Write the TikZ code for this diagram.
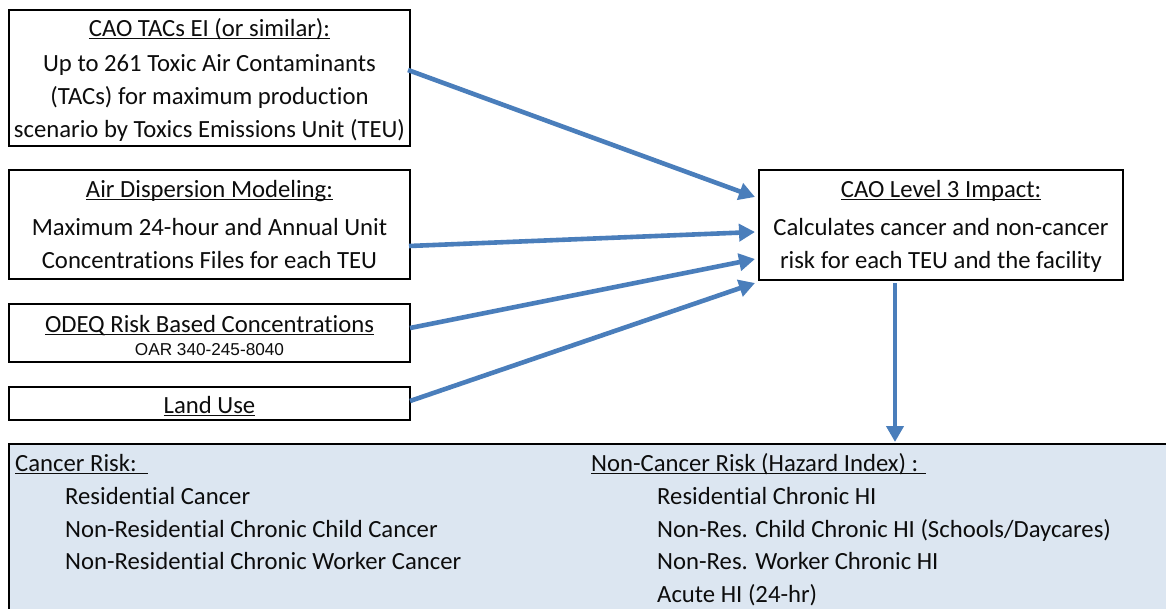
\documentclass[tikz,border=0pt]{standalone}
\usepackage{fontspec}
\setmainfont{Carlito}[Ligatures=NoCommon]
\newfontfamily\arialish{Liberation Sans}
\usetikzlibrary{arrows.meta}
\definecolor{flowblue}{HTML}{4A7EBB}
\definecolor{panelfill}{HTML}{DCE6F1}
\definecolor{inkc}{HTML}{0D0D0D}
% underline that crosses descenders, close to the baseline
\newcommand\ulx[1]{\setbox0\hbox{#1}\rlap{\rule[-3.4pt]{\wd0}{1.2pt}}\box0}
\begin{document}
\begin{tikzpicture}[x=1pt,y=-1pt,
  box/.style={draw=black,line width=2.2pt,inner sep=0pt,outer sep=0pt},
  txt/.style={anchor=base,inner sep=0pt,text=inkc,font=\fontsize{24.7}{28}\selectfont},
  ltxt/.style={txt,anchor=base west},
  small/.style={anchor=base,inner sep=0pt,text=inkc,font=\arialish\fontsize{17.2}{20}\selectfont},
  flow/.style={draw=flowblue,line width=4.6pt,-{Triangle[length=16pt,width=17pt]}}]
\clip (0,0) rectangle (1166,608);
\fill[white] (0,0) rectangle (1166,608);

% input boxes
\node[box,minimum width=401pt,minimum height=136pt] (b1) at (209.5,78) {};
\node[box,minimum width=401pt,minimum height=109pt] (b2) at (209.5,224.5) {};
\node[box,minimum width=401pt,minimum height=58pt] (b3) at (209.5,333) {};
\node[box,minimum width=401pt,minimum height=33pt] (b4) at (209.5,403.5) {};
% impact box
\node[box,minimum width=364pt,minimum height=110pt] (cao) at (941,225) {};
% results panel
\node[box,fill=panelfill,minimum width=1161pt,minimum height=170pt] (res) at (589.5,529) {};

% texts of the input boxes
\node[txt] (t1a) at (209.5,36) {\ulx{CAO TACs EI (or similar):}};
\node[txt] (t1b) at (209.5,71) {Up to 261 Toxic Air Contaminants};
\node[txt] (t1c) at (209.5,104) {(TACs) for maximum production};
\node[txt] (t1d) at (209.5,137) {scenario by Toxics Emissions Unit (TEU)};

\node[txt] (t2a) at (209.5,197) {\ulx{Air Dispersion Modeling:}};
\node[txt] (t2b) at (209.5,235) {Maximum 24-hour and Annual Unit};
\node[txt] (t2c) at (209.5,268) {Concentrations Files for each TEU};

\node[txt] (t3a) at (209.5,332) {\ulx{ODEQ Risk Based Concentrations}};
\node[small] (t3b) at (209.5,355) {OAR 340-245-8040};

\node[txt] (t4a) at (209.5,413) {\ulx{Land Use}};

\node[txt] (tca) at (941,197) {\ulx{CAO Level 3 Impact:}};
\node[txt] (tcb) at (941,235) {Calculates cancer and non-cancer};
\node[txt] (tcc) at (941,268) {risk for each TEU and the facility};

% results texts
\node[ltxt] (r1) at (15,471) {\ulx{Cancer Risk:\hspace{0.45em}}};
\node[ltxt] (r2) at (65,504) {Residential Cancer};
\node[ltxt] (r3) at (65,537) {Non-Residential Chronic Child Cancer};
\node[ltxt] (r4) at (65,569) {Non-Residential Chronic Worker Cancer};

\node[ltxt] (n1) at (591,471) {\ulx{Non-Cancer Risk (Hazard Index) :\hspace{0.3em}}};
\node[ltxt] (n2) at (657,504) {Residential Chronic HI};
\node[ltxt] (n3) at (657,537) {Non-Res. Child Chronic HI (Schools/Daycares)};
\node[ltxt] (n4) at (657,569) {Non-Res. Worker Chronic HI};
\node[ltxt] (n5) at (657,602) {Acute HI (24-hr)};

% connectors
\draw[flow] ([shift={(-2pt,8pt)}]b1.east) -- ([shift={(-4pt,28pt)}]cao.west);
\draw[flow] ([shift={(-1pt,-21.5pt)}]b2.east) -- ([shift={(-4pt,-7pt)}]cao.west);
\draw[flow] ([shift={(0pt,5pt)}]b3.east) -- ([shift={(-4pt,-34pt)}]cao.west);
\draw[flow] ([shift={(0pt,2.5pt)}]b4.east) -- ([shift={(-4pt,-3pt)}]cao.south west);
\draw[flow] ([shift={(-46pt,-3pt)}]cao.south) -- ([shift={(-46pt,2pt)}]cao.south |- res.north);
\end{tikzpicture}
\end{document}
